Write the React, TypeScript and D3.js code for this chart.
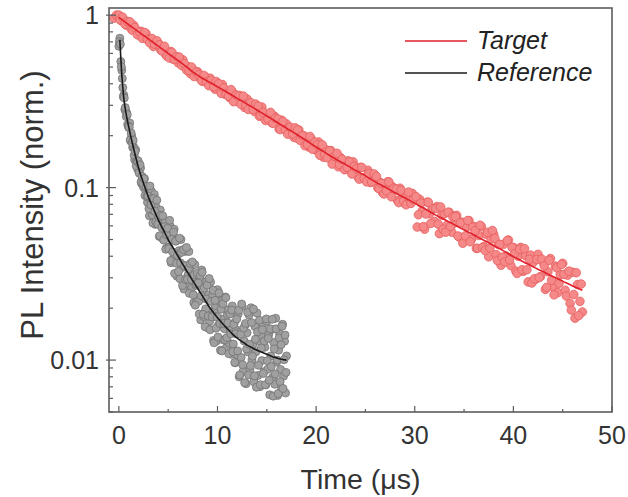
import { useEffect, useRef } from "react";
import * as d3 from "d3";

// x: time in µs, y: normalised PL intensity (log)
const xTicks = [0, 10, 20, 30, 40, 50];
const yTicks = [0.01, 0.1, 1];
const legendLabels = ["Target", "Reference"];

// Target: measured points [t, I]
const targetPoints: [number, number][] = [
  [-0.5, 0.96], [-0.25, 1.0],
  [0, 1.0], [0.25, 0.928], [0.5, 0.933], [0.75, 0.875],
  [1, 0.899], [1.25, 0.834], [1.5, 0.874], [1.75, 0.812],
  [2, 0.768], [2.25, 0.805], [2.5, 0.764], [2.75, 0.783],
  [3, 0.713], [3.25, 0.725], [3.5, 0.659], [3.75, 0.685],
  [4, 0.687], [4.25, 0.627], [4.5, 0.643], [4.75, 0.591],
  [5, 0.607], [5.25, 0.616], [5.5, 0.556], [5.75, 0.559],
  [6, 0.53], [6.25, 0.548], [6.5, 0.55], [6.75, 0.497],
  [7, 0.504], [7.25, 0.458], [7.5, 0.484], [7.75, 0.458],
  [8, 0.469], [8.25, 0.429], [8.5, 0.413], [8.75, 0.439],
  [9, 0.402], [9.25, 0.431], [9.5, 0.403], [9.75, 0.372],
  [10, 0.4], [10.25, 0.37], [10.5, 0.396], [10.75, 0.348],
  [11, 0.363], [11.25, 0.332], [11.5, 0.359], [11.75, 0.333],
  [12, 0.316], [12.25, 0.342], [12.5, 0.317], [12.75, 0.292],
  [13, 0.326], [13.25, 0.296], [13.5, 0.302], [13.75, 0.276],
  [14, 0.29], [14.25, 0.259], [14.5, 0.293], [14.75, 0.265],
  [15, 0.252], [15.25, 0.268], [15.5, 0.238], [15.75, 0.26],
  [16, 0.242], [16.25, 0.219], [16.5, 0.246], [16.75, 0.221],
  [17, 0.234], [17.25, 0.21], [17.5, 0.216], [17.75, 0.196],
  [18, 0.194], [18.25, 0.216], [18.5, 0.196], [18.75, 0.2],
  [19, 0.193], [19.25, 0.172], [19.5, 0.192], [19.75, 0.171],
  [20, 0.165], [20.25, 0.184], [20.5, 0.167], [20.75, 0.15],
  [21, 0.166], [21.25, 0.151], [21.5, 0.164], [21.75, 0.142],
  [22, 0.149], [22.25, 0.132], [22.5, 0.149], [22.75, 0.137],
  [23, 0.128], [23.25, 0.143], [23.5, 0.131], [23.75, 0.141],
  [24, 0.131], [24.25, 0.115], [24.5, 0.131], [24.75, 0.114],
  [25, 0.113], [25.25, 0.126], [25.5, 0.107], [25.75, 0.116],
  [26, 0.117], [26.25, 0.0997], [26.5, 0.107], [26.75, 0.0933],
  [27, 0.0957], [27.25, 0.108], [27.5, 0.0988], [27.75, 0.101],
  [28, 0.097], [28.25, 0.0844], [28.5, 0.0992], [28.75, 0.0859],
  [29, 0.081], [29.25, 0.0916], [29.5, 0.085], [29.75, 0.0926],
  [30, 0.0854], [30.25, 0.0591], [30.5, 0.0855], [30.75, 0.0731],
  [31, 0.0574], [31.25, 0.0823], [31.5, 0.0705], [31.75, 0.0757],
  [32, 0.0637], [32.25, 0.0777], [32.5, 0.0541], [32.75, 0.0692],
  [33, 0.0705], [33.25, 0.0603], [33.5, 0.0719], [33.75, 0.0552],
  [34, 0.0622], [34.25, 0.069], [34.5, 0.0518], [34.75, 0.0631],
  [35, 0.0512], [35.25, 0.0593], [35.5, 0.0644], [35.75, 0.0502],
  [36, 0.0595], [36.25, 0.0444], [36.5, 0.0528], [36.75, 0.0595],
  [37, 0.0455], [37.25, 0.0536], [37.5, 0.0397], [37.75, 0.0503],
  [38, 0.0536], [38.25, 0.0409], [38.5, 0.0468], [38.75, 0.0355],
  [39, 0.0469], [39.25, 0.0401], [39.5, 0.0497], [39.75, 0.0353],
  [40, 0.045], [40.25, 0.0328], [40.5, 0.04], [40.75, 0.045],
  [41, 0.0327], [41.25, 0.0403], [41.5, 0.0284], [41.75, 0.0406],
  [42, 0.0368], [42.25, 0.0294], [42.5, 0.041], [42.75, 0.0305],
  [43, 0.0372], [43.25, 0.0257], [43.5, 0.0325], [43.75, 0.0388],
  [44, 0.0265], [44.25, 0.0351], [44.5, 0.0246], [44.75, 0.0314],
  [45, 0.0364], [45.25, 0.0254], [45.5, 0.0311], [45.75, 0.0213],
  [46, 0.0323], [46.25, 0.0175], [46.5, 0.0274], [46.75, 0.0219],
  [47, 0.019],
];

// Target: in-between channels
const targetPointsB: [number, number][] = [
  [0.125, 0.94], [0.375, 0.974], [0.625, 0.887], [0.875, 0.919],
  [1.125, 0.915], [1.375, 0.817], [1.625, 0.847], [1.875, 0.77],
  [2.125, 0.799], [2.375, 0.734], [2.625, 0.793], [2.875, 0.722],
  [3.125, 0.691], [3.375, 0.731], [3.625, 0.679], [3.875, 0.709],
  [4.125, 0.674], [4.375, 0.62], [4.625, 0.66], [4.875, 0.578],
  [5.125, 0.564], [5.375, 0.609], [5.625, 0.555], [5.875, 0.575],
  [6.125, 0.571], [6.375, 0.51], [6.625, 0.523], [6.875, 0.48],
  [7.125, 0.478], [7.375, 0.5], [7.625, 0.441], [7.875, 0.467],
  [8.125, 0.452], [8.375, 0.418], [8.625, 0.447], [8.875, 0.41],
  [9.125, 0.39], [9.375, 0.419], [9.625, 0.384], [9.875, 0.412],
  [10.125, 0.4], [10.375, 0.352], [10.625, 0.378], [10.875, 0.349],
  [11.125, 0.339], [11.375, 0.37], [11.625, 0.315], [11.875, 0.345],
  [12.125, 0.339], [12.375, 0.304], [12.625, 0.339], [12.875, 0.299],
  [13.125, 0.284], [13.375, 0.311], [13.625, 0.284], [13.875, 0.305],
  [14.125, 0.296], [14.375, 0.263], [14.625, 0.273], [14.875, 0.245],
  [15.125, 0.25], [15.375, 0.273], [15.625, 0.236], [15.875, 0.253],
  [16.125, 0.25], [16.375, 0.217], [16.625, 0.242], [16.875, 0.216],
  [17.125, 0.204], [17.375, 0.224], [17.625, 0.205], [17.875, 0.222],
  [18.125, 0.216], [18.375, 0.188], [18.625, 0.2], [18.875, 0.175],
  [19.125, 0.178], [19.375, 0.198], [19.625, 0.167], [19.875, 0.183],
  [20.125, 0.177], [20.375, 0.154], [20.625, 0.177], [20.875, 0.155],
  [21.125, 0.149], [21.375, 0.163], [21.625, 0.137], [21.875, 0.152],
  [22.125, 0.158], [22.375, 0.136], [22.625, 0.146], [22.875, 0.127],
  [23.125, 0.131], [23.375, 0.141], [23.625, 0.12], [23.875, 0.133],
  [24.125, 0.129], [24.375, 0.112], [24.625, 0.131], [24.875, 0.113],
  [25.125, 0.108], [25.375, 0.121], [25.625, 0.108], [25.875, 0.12],
  [26.125, 0.116], [26.375, 0.0987], [26.625, 0.106], [26.875, 0.0918],
  [27.125, 0.0958], [27.375, 0.108], [27.625, 0.0885], [27.875, 0.0991],
  [28.125, 0.0981], [28.375, 0.0819], [28.625, 0.0966], [28.875, 0.0835],
  [29.125, 0.0795], [29.375, 0.0942], [29.625, 0.081], [29.875, 0.0853],
  [30.125, 0.0887], [30.375, 0.0696], [30.625, 0.0815], [30.875, 0.0594],
  [31.125, 0.0703], [31.375, 0.0823], [31.625, 0.062], [31.875, 0.0756],
  [32.125, 0.0756], [32.375, 0.0614], [32.625, 0.0772], [32.875, 0.0573],
  [33.125, 0.0551], [33.375, 0.072], [33.625, 0.0595], [33.875, 0.0677],
  [34.125, 0.0678], [34.375, 0.0524], [34.625, 0.0625], [34.875, 0.0476],
  [35.125, 0.0525], [35.375, 0.0644], [35.625, 0.0485], [35.875, 0.059],
  [36.125, 0.0563], [36.375, 0.0445], [36.625, 0.0605], [36.875, 0.0449],
  [37.125, 0.0432], [37.375, 0.0551], [37.625, 0.0446], [37.875, 0.0564],
  [38.125, 0.0508], [38.375, 0.0378], [38.625, 0.0469], [38.875, 0.0395],
  [39.125, 0.0371], [39.375, 0.0493], [39.625, 0.0381], [39.875, 0.045],
  [40.125, 0.0415], [40.375, 0.0318], [40.625, 0.0439], [40.875, 0.0334],
  [41.125, 0.0443], [41.375, 0.0334], [41.625, 0.0384], [41.875, 0.028],
  [42.125, 0.0296], [42.375, 0.0383], [42.625, 0.0301], [42.875, 0.0385],
  [43.125, 0.0352], [43.375, 0.0264], [43.625, 0.0379], [43.875, 0.029],
  [44.125, 0.0239], [44.375, 0.0343], [44.625, 0.0279], [44.875, 0.0358],
  [45.125, 0.0314], [45.375, 0.0235], [45.625, 0.0328], [45.875, 0.0195],
  [46.125, 0.024], [46.375, 0.0321], [46.625, 0.0181], [46.875, 0.0276],
];

// Reference: measured points [t, I]
const referencePoints: [number, number][] = [
  [0, 0.66], [0.1, 0.735], [0.2, 0.538], [0.3, 0.479], [0.4, 0.38], [0.5, 0.344],
  [0.6, 0.2835], [0.7, 0.279], [0.8, 0.27], [0.9, 0.232], [1.0, 0.223],
  [1.1, 0.237], [1.2, 0.186], [1.3, 0.199], [1.4, 0.171], [1.5, 0.172],
  [1.6, 0.145], [1.7, 0.166], [1.8, 0.144], [1.9, 0.128], [2.0, 0.139],
  [2.1, 0.121], [2.2, 0.13], [2.3, 0.1055], [2.4, 0.115], [2.5, 0.1006],
  [2.6, 0.1126], [2.7, 0.0967], [2.8, 0.1002], [2.9, 0.0822], [3.0, 0.0894],
  [3.1, 0.0686], [3.2, 0.0847], [3.3, 0.0953], [3.4, 0.0693], [3.5, 0.0738],
  [3.6, 0.0912], [3.7, 0.0612], [3.8, 0.0766], [3.9, 0.0618], [4.0, 0.0681],
  [4.1, 0.0521], [4.2, 0.0741], [4.3, 0.0601], [4.4, 0.0509], [4.5, 0.0647],
  [4.6, 0.0525], [4.7, 0.0635], [4.8, 0.0444], [4.9, 0.0556], [5.0, 0.0451],
  [5.1, 0.0451], [5.2, 0.0598], [5.3, 0.0367], [5.4, 0.0512], [5.5, 0.0386],
  [5.6, 0.0574], [5.7, 0.0407], [5.8, 0.0491], [5.9, 0.0306], [6.0, 0.042],
  [6.1, 0.0431], [6.2, 0.0296], [6.3, 0.05], [6.4, 0.0344], [6.5, 0.0435],
  [6.6, 0.0258], [6.7, 0.0353], [6.8, 0.0427], [6.9, 0.0279], [7.0, 0.031],
  [7.1, 0.0426], [7.2, 0.0249], [7.3, 0.0348], [7.4, 0.0263], [7.5, 0.0308],
  [7.6, 0.0215], [7.7, 0.0358], [7.8, 0.0271], [7.9, 0.0219], [8.0, 0.031],
  [8.1, 0.022], [8.2, 0.0271], [8.3, 0.0171], [8.4, 0.0333], [8.5, 0.0234],
  [8.6, 0.0179], [8.7, 0.0281], [8.8, 0.0198], [8.9, 0.0286], [9.0, 0.0154],
  [9.1, 0.0238], [9.2, 0.0168], [9.3, 0.0283], [9.4, 0.0184], [9.5, 0.0236],
  [9.6, 0.013], [9.7, 0.0197], [9.8, 0.0207], [9.9, 0.0129], [10.0, 0.0256],
  [10.1, 0.016], [10.2, 0.0219], [10.3, 0.0114], [10.4, 0.0173], [10.5, 0.0222],
  [10.6, 0.0131], [10.7, 0.0152], [10.8, 0.0232], [10.9, 0.0118], [11.0, 0.0183],
  [11.1, 0.0196], [11.2, 0.0125], [11.3, 0.0149], [11.4, 0.0108], [11.5, 0.0206],
  [11.6, 0.0124], [11.7, 0.0164], [11.8, 0.00964], [11.9, 0.015], [12.0, 0.0107],
  [12.1, 0.0185], [12.2, 0.008], [12.3, 0.01457], [12.4, 0.01036], [12.5, 0.0205],
  [12.6, 0.00861], [12.7, 0.01291], [12.8, 0.01595], [12.9, 0.00729], [13.0, 0.0144],
  [13.1, 0.01115], [13.2, 0.01823], [13.3, 0.00883], [13.4, 0.0201], [13.5, 0.01],
  [13.6, 0.01239], [13.7, 0.00748], [13.8, 0.01566], [13.9, 0.01117], [14.0, 0.01874],
  [14.1, 0.00814], [14.2, 0.01295], [14.3, 0.00701], [14.4, 0.01392], [14.5, 0.00993],
  [14.6, 0.01625], [14.7, 0.00856], [14.8, 0.01186], [14.9, 0.00718], [15.0, 0.0168],
  [15.1, 0.00885], [15.2, 0.01408], [15.3, 0.00629], [15.4, 0.01056], [15.5, 0.01504],
  [15.6, 0.00794], [15.7, 0.01264], [15.8, 0.00725], [15.9, 0.01747], [16.0, 0.00974],
  [16.1, 0.00624], [16.2, 0.01142], [16.3, 0.01418], [16.4, 0.00883], [16.5, 0.00686],
  [16.6, 0.01613], [16.7, 0.00807], [16.8, 0.01287], [16.9, 0.00644], [17.0, 0.01057],
];

// Reference: in-between channels
const referencePointsB: [number, number][] = [
  [0.05, 0.7], [0.15, 0.679], [0.25, 0.502], [0.35, 0.429], [0.45, 0.336],
  [0.55, 0.331], [0.65, 0.291], [0.75, 0.258], [0.85, 0.265], [0.95, 0.2275],
  [1.05, 0.2236], [1.15, 0.189], [1.25, 0.207], [1.35, 0.182], [1.45, 0.188],
  [1.55, 0.154], [1.65, 0.162], [1.75, 0.134], [1.85, 0.142], [1.95, 0.143],
  [2.05, 0.122], [2.15, 0.1355], [2.25, 0.108], [2.35, 0.116], [2.45, 0.1057],
  [2.55, 0.1127], [2.65, 0.0899], [2.75, 0.1016], [2.85, 0.0887], [2.95, 0.0895],
  [3.05, 0.0754], [3.15, 0.1022], [3.25, 0.0796], [3.35, 0.0866], [3.45, 0.0623],
  [3.55, 0.0864], [3.65, 0.073], [3.75, 0.0632], [3.85, 0.0846], [3.95, 0.0616],
  [4.05, 0.0672], [4.15, 0.0526], [4.25, 0.0691], [4.35, 0.0586], [4.45, 0.0686],
  [4.55, 0.0496], [4.65, 0.0594], [4.75, 0.0439], [4.85, 0.0532], [4.95, 0.0581],
  [5.05, 0.0442], [5.15, 0.0646], [5.25, 0.0377], [5.35, 0.0501], [5.45, 0.0424],
  [5.55, 0.0553], [5.65, 0.0318], [5.75, 0.0489], [5.85, 0.0364], [5.95, 0.0405],
  [6.05, 0.0326], [6.15, 0.0509], [6.25, 0.0366], [6.35, 0.0421], [6.45, 0.0271],
  [6.55, 0.0437], [6.65, 0.0352], [6.75, 0.0293], [6.85, 0.045], [6.95, 0.0294],
  [7.05, 0.0338], [7.15, 0.0244], [7.25, 0.0363], [7.35, 0.0293], [7.45, 0.0371],
  [7.55, 0.0239], [7.65, 0.0313], [7.75, 0.0208], [7.85, 0.0277], [7.95, 0.0319],
  [8.05, 0.028], [8.15, 0.0185], [8.25, 0.031], [8.35, 0.0236], [8.45, 0.0323],
  [8.55, 0.0184], [8.65, 0.0262], [8.75, 0.0156], [8.85, 0.0226], [8.95, 0.0272],
  [9.05, 0.018], [9.15, 0.0297], [9.25, 0.015], [9.35, 0.0219], [9.45, 0.0178],
  [9.55, 0.0254], [9.65, 0.0126], [9.75, 0.0222], [9.85, 0.0153], [9.95, 0.0178],
  [10.05, 0.0136], [10.15, 0.0245], [10.25, 0.0163], [10.35, 0.0197], [10.45, 0.0113],
  [10.55, 0.0212], [10.65, 0.0163], [10.75, 0.0131], [10.85, 0.023], [10.95, 0.0135],
  [11.05, 0.0164], [11.15, 0.0109], [11.25, 0.0185], [11.35, 0.0142], [11.45, 0.0195],
  [11.55, 0.0112], [11.65, 0.0161], [11.75, 0.00969], [11.85, 0.0142], [11.95, 0.0173],
  [12.05, 0.0113], [12.15, 0.01946], [12.25, 0.00819], [12.35, 0.0141], [12.45, 0.02114],
  [12.55, 0.0094], [12.65, 0.01531], [12.75, 0.0074], [12.85, 0.01632], [12.95, 0.0116],
  [13.05, 0.01892], [13.15, 0.0082], [13.25, 0.01234], [13.35, 0.0093], [13.45, 0.01649],
  [13.55, 0.01053], [13.65, 0.01974], [13.75, 0.0081], [13.85, 0.01322], [13.95, 0.00696],
  [14.05, 0.01458], [14.15, 0.00932], [14.25, 0.01703], [14.35, 0.0072], [14.45, 0.01176],
  [14.55, 0.015], [14.65, 0.00836], [14.75, 0.01292], [14.85, 0.0072], [14.95, 0.01733],
  [15.05, 0.00991], [15.15, 0.01336], [15.25, 0.00765], [15.35, 0.01517], [15.45, 0.00917],
  [15.55, 0.01723], [15.65, 0.00618], [15.75, 0.01162], [15.85, 0.00831], [15.95, 0.01519],
  [16.05, 0.01], [16.15, 0.0064], [16.25, 0.01344], [16.35, 0.0075], [16.45, 0.01228],
  [16.55, 0.0157], [16.65, 0.00684], [16.75, 0.01005], [16.85, 0.01397], [16.95, 0.00848],
];

// fitted decay curves [t, I]
const targetFit: [number, number][] = [
  [0, 0.97], [1, 0.881], [2, 0.8], [3, 0.728], [4, 0.661], [5, 0.601], [6, 0.546],
  [7, 0.494], [8, 0.447], [9, 0.414], [10, 0.385], [11, 0.356], [12, 0.329],
  [13, 0.305], [14, 0.282], [15, 0.26], [16, 0.24], [17, 0.221], [18, 0.204],
  [19, 0.1875], [20, 0.172], [21, 0.1585], [22, 0.146], [23, 0.136], [24, 0.126],
  [25, 0.117], [26, 0.108], [27, 0.1007], [28, 0.0933], [29, 0.0871], [30, 0.0813],
  [31, 0.0755], [32, 0.07], [33, 0.0653], [34, 0.061], [35, 0.0569], [36, 0.0531],
  [37, 0.0495], [38, 0.0462], [39, 0.043], [40, 0.0398], [41, 0.0372], [42, 0.0347],
  [43, 0.0326], [44, 0.0305], [45, 0.0287], [46, 0.0269], [47, 0.0254],
];

const referenceFit: [number, number][] = [
  [0.1, 0.72], [0.3, 0.45], [0.5, 0.33], [0.75, 0.265], [1, 0.225], [1.5, 0.168],
  [2, 0.13], [2.5, 0.106], [3, 0.088], [3.5, 0.0755], [4, 0.065], [4.5, 0.057],
  [5, 0.05], [5.5, 0.0447], [6, 0.04], [6.5, 0.0358], [7, 0.032], [7.5, 0.0288],
  [8, 0.026], [8.5, 0.0234], [9, 0.021], [9.5, 0.0192], [10, 0.0176], [10.5, 0.0163],
  [11, 0.0152], [11.5, 0.0142], [12, 0.0134], [12.5, 0.0128], [13, 0.0122],
  [13.5, 0.0118], [14, 0.0114], [14.5, 0.0111], [15, 0.0108], [15.5, 0.0105],
  [16, 0.0103], [16.5, 0.0101], [17, 0.01],
];

const WIDTH = 628;
const HEIGHT = 497;
const FONT = "'Liberation Sans', Arial, Helvetica, sans-serif";
const RED = "#e0202c";
const BLACK = "#1a1a1a";

export default function App() {
  const svgRef = useRef<SVGSVGElement | null>(null);

  useEffect(() => {
    const svgElement = svgRef.current;
    if (!svgElement) return;

    const margin = { top: 8, right: 16, bottom: 85, left: 109 };
    const svg = d3.select(svgElement);
    svg.selectAll("*").remove();

    const x = d3
      .scaleLinear()
      .domain([-1, 50])
      .range([margin.left, WIDTH - margin.right]);
    const y = d3
      .scaleLog()
      .domain([0.005, 1.1])
      .range([HEIGHT - margin.bottom, margin.top]);

    const plotLeft = margin.left;
    const plotRight = WIDTH - margin.right;
    const plotTop = margin.top;
    const plotBottom = HEIGHT - margin.bottom;

    svg.append("rect").attr("width", WIDTH).attr("height", HEIGHT).attr("fill", "#fff");

    const drawPoints = (data: [number, number][], r: number, fill: string, stroke: string) => {
      svg
        .append("g")
        .selectAll("circle")
        .data(data)
        .enter()
        .append("circle")
        .attr("cx", (d) => x(d[0]))
        .attr("cy", (d) => y(d[1]))
        .attr("r", r)
        .attr("fill", fill)
        .attr("stroke", stroke)
        .attr("stroke-width", 0.8);
    };

    drawPoints(referencePoints.concat(referencePointsB), 4.0, "#a0a0a0", "#737373");
    drawPoints(targetPoints.concat(targetPointsB), 4.3, "#f58888", "#e65e5e");

    const line = d3
      .line<[number, number]>()
      .x((d) => x(d[0]))
      .y((d) => y(d[1]))
      .curve(d3.curveMonotoneX);

    svg
      .append("path")
      .datum(referenceFit)
      .attr("fill", "none")
      .attr("stroke", BLACK)
      .attr("stroke-width", 1.6)
      .attr("d", line);

    svg
      .append("path")
      .datum(targetFit)
      .attr("fill", "none")
      .attr("stroke", RED)
      .attr("stroke-width", 1.6)
      .attr("d", line);

    // frame
    svg
      .append("rect")
      .attr("x", plotLeft)
      .attr("y", plotTop)
      .attr("width", plotRight - plotLeft)
      .attr("height", plotBottom - plotTop)
      .attr("fill", "none")
      .attr("stroke", "#5c5c5c")
      .attr("stroke-width", 1.6);

    // x ticks (inward)
    const xt = svg.append("g").attr("stroke", "#5c5c5c").attr("stroke-width", 1.2);
    x.ticks(10).forEach((t) => {
      const major = xTicks.includes(t);
      xt.append("line")
        .attr("x1", x(t))
        .attr("x2", x(t))
        .attr("y1", plotBottom)
        .attr("y2", plotBottom - (major ? 6 : 3));
    });

    // y ticks (inward)
    const yt = svg.append("g").attr("stroke", "#5c5c5c").attr("stroke-width", 1.2);
    y.ticks().forEach((t) => {
      const major = yTicks.some((m) => Math.abs(m - t) < 1e-9);
      yt.append("line")
        .attr("x1", plotLeft - (major ? 3 : 0))
        .attr("x2", plotLeft + (major ? 7 : 4))
        .attr("y1", y(t))
        .attr("y2", y(t));
    });

    // tick labels
    svg
      .append("g")
      .selectAll("text")
      .data(xTicks)
      .enter()
      .append("text")
      .attr("x", (d) => x(d))
      .attr("y", plotBottom + 32)
      .attr("text-anchor", "middle")
      .attr("font-family", FONT)
      .attr("font-size", 25)
      .attr("fill", "#333")
      .text((d) => String(d));

    svg
      .append("g")
      .selectAll("text")
      .data(yTicks)
      .enter()
      .append("text")
      .attr("x", plotLeft - 10)
      .attr("y", (d) => y(d) + 9)
      .attr("text-anchor", "end")
      .attr("font-family", FONT)
      .attr("font-size", 25)
      .attr("fill", "#333")
      .text((d) => String(d));

    // axis titles
    svg
      .append("text")
      .attr("x", (plotLeft + plotRight) / 2)
      .attr("y", 489)
      .attr("text-anchor", "middle")
      .attr("font-family", FONT)
      .attr("font-size", 28.5)
      .attr("fill", "#333")
      .text("Time (μs)");

    svg
      .append("text")
      .attr("transform", "translate(43, 205) rotate(-90)")
      .attr("text-anchor", "middle")
      .attr("font-family", FONT)
      .attr("font-size", 31)
      .attr("fill", "#333")
      .text("PL Intensity (norm.)");

    // legend
    const legendColors = [RED, BLACK];
    const legend = svg.append("g");
    legendLabels.forEach((label, i) => {
      const ly = 41 + i * 32;
      legend
        .append("line")
        .attr("x1", 405)
        .attr("x2", 467)
        .attr("y1", ly)
        .attr("y2", ly)
        .attr("stroke", legendColors[i])
        .attr("stroke-width", 1.6);
      legend
        .append("text")
        .attr("x", 477)
        .attr("y", ly + 8)
        .attr("font-family", FONT)
        .attr("font-size", 25)
        .attr("font-style", "italic")
        .attr("fill", "#222")
        .text(label);
    });
  }, []);

  return (
    <svg
      ref={svgRef}
      width={WIDTH}
      height={HEIGHT}
      style={{ position: "absolute", left: 0, top: 0, display: "block" }}
      role="img"
      aria-label="PL decay chart"
    />
  );
}
